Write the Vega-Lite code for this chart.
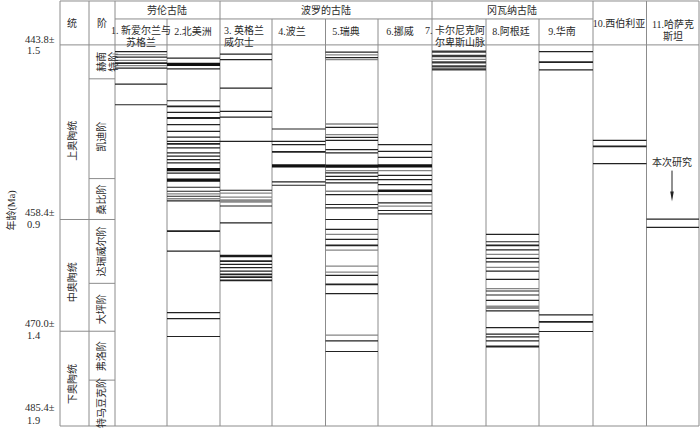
{
  "$schema": "https://vega.github.io/schema/vega-lite/v6.json",
  "width": 700,
  "height": 428,
  "autosize": {"type": "fit", "contains": "padding"},
  "padding": 0,
  "background": "white",
  "config": {"view": {"stroke": null}},
  "datasets": {
    "cols": [
      {"c": 1, "x0": 115, "x1": 167}, {"c": 2, "x0": 167, "x1": 220}, {"c": 3, "x0": 220, "x1": 272},
      {"c": 4, "x0": 272, "x1": 325.5}, {"c": 5, "x0": 325.5, "x1": 378}, {"c": 6, "x0": 378, "x1": 432},
      {"c": 7, "x0": 432, "x1": 486}, {"c": 8, "x0": 486, "x1": 539}, {"c": 9, "x0": 539, "x1": 593},
      {"c": 10, "x0": 593, "x1": 646.5}, {"c": 11, "x0": 646.5, "x1": 699}
    ],
    "beds": [
      {"c": 1, "y": 51.7, "k": "t"}, {"c": 1, "y": 54.7, "k": "g"}, {"c": 1, "y": 57.3, "k": "t"}, {"c": 1, "y": 60.5, "k": "g"},
      {"c": 1, "y": 63.3, "k": "m"}, {"c": 1, "y": 65.7, "k": "g"}, {"c": 1, "y": 68.3, "k": "t"}, {"c": 1, "y": 84.3, "k": "t"}, {"c": 1, "y": 105, "k": "t"},
      {"c": 2, "y": 58.3, "k": "t"}, {"c": 2, "y": 64.5, "k": "B"}, {"c": 2, "y": 69, "k": "t"}, {"c": 2, "y": 101, "k": "t"},
      {"c": 2, "y": 106.7, "k": "m"}, {"c": 2, "y": 112.7, "k": "t"}, {"c": 2, "y": 118.3, "k": "m"}, {"c": 2, "y": 125, "k": "t"},
      {"c": 2, "y": 131.7, "k": "t"}, {"c": 2, "y": 137.5, "k": "t"}, {"c": 2, "y": 141.7, "k": "t"}, {"c": 2, "y": 144.3, "k": "m"},
      {"c": 2, "y": 148.3, "k": "t"}, {"c": 2, "y": 153.3, "k": "t"}, {"c": 2, "y": 156.5, "k": "t"}, {"c": 2, "y": 160, "k": "t"},
      {"c": 2, "y": 163.3, "k": "t"}, {"c": 2, "y": 170, "k": "B"}, {"c": 2, "y": 173.5, "k": "t"}, {"c": 2, "y": 180.5, "k": "B"},
      {"c": 2, "y": 187.7, "k": "t"}, {"c": 2, "y": 191.7, "k": "t"}, {"c": 2, "y": 194.3, "k": "g"}, {"c": 2, "y": 196.7, "k": "t"},
      {"c": 2, "y": 199.2, "k": "g"}, {"c": 2, "y": 201.3, "k": "t"}, {"c": 2, "y": 231.7, "k": "m"}, {"c": 2, "y": 251.7, "k": "t"},
      {"c": 2, "y": 313.3, "k": "t"}, {"c": 2, "y": 319.3, "k": "t"}, {"c": 2, "y": 337.3, "k": "t"},
      {"c": 3, "y": 54.3, "k": "t"}, {"c": 3, "y": 59.7, "k": "t"}, {"c": 3, "y": 88.3, "k": "t"}, {"c": 3, "y": 111.7, "k": "t"},
      {"c": 3, "y": 117.3, "k": "t"}, {"c": 3, "y": 141.7, "k": "t"}, {"c": 3, "y": 190.7, "k": "t"}, {"c": 3, "y": 193.5, "k": "g"},
      {"c": 3, "y": 197.5, "k": "g"}, {"c": 3, "y": 201.5, "k": "G"}, {"c": 3, "y": 206.5, "k": "t"}, {"c": 3, "y": 223.3, "k": "t"},
      {"c": 3, "y": 256.7, "k": "b"}, {"c": 3, "y": 261.7, "k": "m"}, {"c": 3, "y": 265, "k": "t"}, {"c": 3, "y": 268.3, "k": "t"},
      {"c": 3, "y": 271.7, "k": "t"}, {"c": 3, "y": 275, "k": "m"}, {"c": 3, "y": 277.7, "k": "m"}, {"c": 3, "y": 281, "k": "m"},
      {"c": 4, "y": 129.3, "k": "t"}, {"c": 4, "y": 141.7, "k": "t"}, {"c": 4, "y": 145, "k": "t"}, {"c": 4, "y": 152.3, "k": "m"},
      {"c": 4, "y": 166.3, "k": "B"}, {"c": 4, "y": 182.3, "k": "t"}, {"c": 4, "y": 185.7, "k": "t"},
      {"c": 5, "y": 52.3, "k": "t"}, {"c": 5, "y": 55, "k": "g"}, {"c": 5, "y": 57.7, "k": "t"}, {"c": 5, "y": 59.7, "k": "g"},
      {"c": 5, "y": 124.3, "k": "g"}, {"c": 5, "y": 127.7, "k": "t"}, {"c": 5, "y": 135, "k": "g"}, {"c": 5, "y": 137.7, "k": "t"},
      {"c": 5, "y": 140.7, "k": "t"}, {"c": 5, "y": 150, "k": "t"}, {"c": 5, "y": 153.3, "k": "t"}, {"c": 5, "y": 166.5, "k": "B"},
      {"c": 5, "y": 171, "k": "g"}, {"c": 5, "y": 173.3, "k": "t"}, {"c": 5, "y": 176.7, "k": "t"}, {"c": 5, "y": 180, "k": "t"},
      {"c": 5, "y": 183.3, "k": "t"}, {"c": 5, "y": 191.7, "k": "g"}, {"c": 5, "y": 195, "k": "t"}, {"c": 5, "y": 205, "k": "t"},
      {"c": 5, "y": 208.3, "k": "t"}, {"c": 5, "y": 220, "k": "t"}, {"c": 5, "y": 230, "k": "t"}, {"c": 5, "y": 235, "k": "g"},
      {"c": 5, "y": 240, "k": "t"}, {"c": 5, "y": 246, "k": "m"}, {"c": 5, "y": 250.7, "k": "g"}, {"c": 5, "y": 266.7, "k": "g"},
      {"c": 5, "y": 272.7, "k": "g"}, {"c": 5, "y": 276, "k": "t"}, {"c": 5, "y": 285, "k": "m"}, {"c": 5, "y": 294.3, "k": "t"},
      {"c": 5, "y": 336, "k": "g"}, {"c": 5, "y": 341.7, "k": "t"}, {"c": 5, "y": 352.3, "k": "t"},
      {"c": 6, "y": 145, "k": "t"}, {"c": 6, "y": 151.7, "k": "t"}, {"c": 6, "y": 157.7, "k": "t"}, {"c": 6, "y": 166.3, "k": "B"},
      {"c": 6, "y": 171, "k": "g"}, {"c": 6, "y": 175.7, "k": "t"}, {"c": 6, "y": 180, "k": "t"}, {"c": 6, "y": 185, "k": "t"},
      {"c": 6, "y": 191.2, "k": "b"}, {"c": 6, "y": 195, "k": "g"}, {"c": 6, "y": 203.3, "k": "t"}, {"c": 6, "y": 206.7, "k": "g"},
      {"c": 6, "y": 211, "k": "t"}, {"c": 6, "y": 214.3, "k": "t"},
      {"c": 7, "y": 51.7, "k": "D"}, {"c": 7, "y": 56.2, "k": "D"}, {"c": 7, "y": 59.5, "k": "g"},
      {"c": 7, "y": 62.5, "k": "D"}, {"c": 7, "y": 66.5, "k": "D"}, {"c": 7, "y": 69.5, "k": "D"},
      {"c": 8, "y": 235, "k": "t"}, {"c": 8, "y": 242.3, "k": "t"}, {"c": 8, "y": 246, "k": "m"}, {"c": 8, "y": 250.5, "k": "t"},
      {"c": 8, "y": 255, "k": "g"}, {"c": 8, "y": 259, "k": "t"}, {"c": 8, "y": 262.5, "k": "t"}, {"c": 8, "y": 268, "k": "g"},
      {"c": 8, "y": 271.7, "k": "t"}, {"c": 8, "y": 280, "k": "t"}, {"c": 8, "y": 289.3, "k": "g"}, {"c": 8, "y": 291.7, "k": "t"},
      {"c": 8, "y": 295.7, "k": "t"}, {"c": 8, "y": 301, "k": "t"}, {"c": 8, "y": 308, "k": "G"}, {"c": 8, "y": 311.7, "k": "t"},
      {"c": 8, "y": 328.3, "k": "t"}, {"c": 8, "y": 335, "k": "t"}, {"c": 8, "y": 337.7, "k": "t"}, {"c": 8, "y": 341.7, "k": "t"},
      {"c": 8, "y": 347.3, "k": "m"},
      {"c": 9, "y": 51.7, "k": "t"}, {"c": 9, "y": 62.3, "k": "m"}, {"c": 9, "y": 70, "k": "t"},
      {"c": 9, "y": 315.7, "k": "t"}, {"c": 9, "y": 322.7, "k": "m"}, {"c": 9, "y": 332.3, "k": "t"},
      {"c": 10, "y": 140.7, "k": "t"}, {"c": 10, "y": 146.7, "k": "m"}, {"c": 10, "y": 164, "k": "t"},
      {"c": 11, "y": 219.7, "k": "t"}, {"c": 11, "y": 228, "k": "t"}
    ],
    "frame": [
      {"x": 60, "x2": 699, "y": 1, "y2": 1}, {"x": 115, "x2": 593, "y": 19, "y2": 19},
      {"x": 60, "x2": 699, "y": 45, "y2": 45}, {"x": 60, "x2": 699, "y": 427, "y2": 427},
      {"x": 60, "x2": 115, "y": 220, "y2": 220}, {"x": 60, "x2": 115, "y": 332, "y2": 332},
      {"x": 89, "x2": 115, "y": 79, "y2": 79}, {"x": 89, "x2": 115, "y": 179, "y2": 179},
      {"x": 89, "x2": 115, "y": 284, "y2": 284}, {"x": 89, "x2": 115, "y": 381, "y2": 381},
      {"x": 60, "x2": 60, "y": 1, "y2": 427}, {"x": 89, "x2": 89, "y": 1, "y2": 427},
      {"x": 115, "x2": 115, "y": 1, "y2": 427}, {"x": 167, "x2": 167, "y": 19, "y2": 427},
      {"x": 220, "x2": 220, "y": 1, "y2": 427}, {"x": 272, "x2": 272, "y": 19, "y2": 427},
      {"x": 325.5, "x2": 325.5, "y": 19, "y2": 427}, {"x": 378, "x2": 378, "y": 19, "y2": 427},
      {"x": 432, "x2": 432, "y": 1, "y2": 427}, {"x": 486, "x2": 486, "y": 19, "y2": 427},
      {"x": 539, "x2": 539, "y": 19, "y2": 427}, {"x": 593, "x2": 593, "y": 1, "y2": 427},
      {"x": 646.5, "x2": 646.5, "y": 1, "y2": 427}, {"x": 699, "x2": 699, "y": 1, "y2": 427}
    ],
    "labelsC": [
      {"t": "统", "x": 72, "y": 24}, {"t": "阶", "x": 102, "y": 24},
      {"t": "劳伦古陆", "x": 167, "y": 11}, {"t": "波罗的古陆", "x": 326, "y": 11}, {"t": "冈瓦纳古陆", "x": 512, "y": 11},
      {"t": "1. 新爱尔兰与\n苏格兰", "x": 141, "y": 31.5}, {"t": "2.北美洲", "x": 193, "y": 32},
      {"t": "4.波兰", "x": 292, "y": 32}, {"t": "5.瑞典", "x": 346, "y": 32}, {"t": "6.挪威", "x": 400, "y": 32},
      {"t": "8.阿根廷", "x": 511, "y": 32}, {"t": "9.华南", "x": 562, "y": 32},
      {"t": "10.西伯利亚", "x": 619, "y": 24}, {"t": "11.哈萨克\n斯坦", "x": 673, "y": 25.5},
      {"t": "本次研究", "x": 672, "y": 163}
    ],
    "labelsL": [
      {"t": "3. 英格兰\n威尔士", "x": 224, "y": 31.5}
    ],
    "ages": [
      {"t": "443.8±", "x": 25, "y": 40}, {"t": "1.5", "x": 27, "y": 51},
      {"t": "458.4±", "x": 25, "y": 213}, {"t": "0.9", "x": 27, "y": 226},
      {"t": "470.0±", "x": 25, "y": 325}, {"t": "1.4", "x": 27, "y": 337},
      {"t": "485.4±", "x": 25, "y": 409}, {"t": "1.9", "x": 27, "y": 422}
    ],
    "labelsR": [
      {"t": "7. 卡尔尼克阿\n尔卑斯山脉", "x": 485, "y": 31.5}
    ],
    "labelsV": [
      {"t": "年龄(Ma)", "x": 12, "y": 211},
      {"t": "上奥陶统", "x": 73, "y": 141}, {"t": "中奥陶统", "x": 73, "y": 283}, {"t": "下奥陶统", "x": 73, "y": 385},
      {"t": "赫南\n特阶", "x": 102, "y": 62}, {"t": "凯迪阶", "x": 102, "y": 137}, {"t": "桑比阶", "x": 102, "y": 200},
      {"t": "达瑞威尔阶", "x": 102, "y": 252}, {"t": "大坪阶", "x": 102, "y": 310}, {"t": "弗洛阶", "x": 102, "y": 357},
      {"t": "特马豆克阶", "x": 102, "y": 404}
    ],
    "arrow": [{"x": 672, "y": 171, "y2": 194}],
    "head": [{"x": 672, "y": 197}]
  },
  "encoding": {
    "x": {"field": "x", "type": "quantitative", "scale": {"domain": [0, 700], "nice": false, "zero": false}, "axis": null},
    "y": {"field": "y", "type": "quantitative", "scale": {"domain": [0, 428], "reverse": true, "nice": false, "zero": false}, "axis": null}
  },
  "layer": [
    {
      "data": {"name": "frame"},
      "mark": {"type": "rule", "color": "#8c8c8c", "strokeWidth": 1},
      "encoding": {"x2": {"field": "x2"}, "y2": {"field": "y2"}}
    },
    {
      "data": {"name": "beds"},
      "transform": [
        {"lookup": "c", "from": {"data": {"name": "cols"}, "key": "c", "fields": ["x0", "x1"]}},
        {"filter": "datum.k == 't'"}
      ],
      "mark": {"type": "rule", "color": "#222222", "strokeWidth": 1.2},
      "encoding": {"x": {"field": "x0", "type": "quantitative"}, "x2": {"field": "x1"}}
    },
    {
      "data": {"name": "beds"},
      "transform": [
        {"lookup": "c", "from": {"data": {"name": "cols"}, "key": "c", "fields": ["x0", "x1"]}},
        {"filter": "datum.k == 'g'"}
      ],
      "mark": {"type": "rule", "color": "#858585", "strokeWidth": 1.3},
      "encoding": {"x": {"field": "x0", "type": "quantitative"}, "x2": {"field": "x1"}}
    },
    {
      "data": {"name": "beds"},
      "transform": [
        {"lookup": "c", "from": {"data": {"name": "cols"}, "key": "c", "fields": ["x0", "x1"]}},
        {"filter": "datum.k == 'm'"}
      ],
      "mark": {"type": "rule", "color": "#222222", "strokeWidth": 1.8},
      "encoding": {"x": {"field": "x0", "type": "quantitative"}, "x2": {"field": "x1"}}
    },
    {
      "data": {"name": "beds"},
      "transform": [
        {"lookup": "c", "from": {"data": {"name": "cols"}, "key": "c", "fields": ["x0", "x1"]}},
        {"filter": "datum.k == 'b'"}
      ],
      "mark": {"type": "rule", "color": "#1a1a1a", "strokeWidth": 2.5},
      "encoding": {"x": {"field": "x0", "type": "quantitative"}, "x2": {"field": "x1"}}
    },
    {
      "data": {"name": "beds"},
      "transform": [
        {"lookup": "c", "from": {"data": {"name": "cols"}, "key": "c", "fields": ["x0", "x1"]}},
        {"filter": "datum.k == 'D'"}
      ],
      "mark": {"type": "rule", "color": "#3a3a3a", "strokeWidth": 2.4},
      "encoding": {"x": {"field": "x0", "type": "quantitative"}, "x2": {"field": "x1"}}
    },
    {
      "data": {"name": "beds"},
      "transform": [
        {"lookup": "c", "from": {"data": {"name": "cols"}, "key": "c", "fields": ["x0", "x1"]}},
        {"filter": "datum.k == 'B'"}
      ],
      "mark": {"type": "rule", "color": "#111111", "strokeWidth": 3.4},
      "encoding": {"x": {"field": "x0", "type": "quantitative"}, "x2": {"field": "x1"}}
    },
    {
      "data": {"name": "beds"},
      "transform": [
        {"lookup": "c", "from": {"data": {"name": "cols"}, "key": "c", "fields": ["x0", "x1"]}},
        {"filter": "datum.k == 'G'"}
      ],
      "mark": {"type": "rule", "color": "#8a8a8a", "strokeWidth": 3.5},
      "encoding": {"x": {"field": "x0", "type": "quantitative"}, "x2": {"field": "x1"}}
    },
    {
      "data": {"name": "arrow"},
      "mark": {"type": "rule", "color": "#222222", "strokeWidth": 1},
      "encoding": {"y2": {"field": "y2"}}
    },
    {
      "data": {"name": "head"},
      "mark": {"type": "point", "shape": "M -0.35 -1 L 0.35 -1 L 0 1 Z", "size": 100, "filled": true, "color": "#222222", "opacity": 1}
    },
    {
      "data": {"name": "labelsC"},
      "mark": {"type": "text", "font": "Liberation Serif, Noto Sans CJK SC", "fontSize": 10, "color": "#2a2a2a", "align": "center", "baseline": "middle", "lineBreak": "\n", "lineHeight": 11.5},
      "encoding": {"text": {"field": "t", "type": "nominal"}}
    },
    {
      "data": {"name": "labelsL"},
      "mark": {"type": "text", "font": "Liberation Serif, Noto Sans CJK SC", "fontSize": 10, "color": "#2a2a2a", "align": "left", "baseline": "middle", "lineBreak": "\n", "lineHeight": 11.5},
      "encoding": {"text": {"field": "t", "type": "nominal"}}
    },
    {
      "data": {"name": "ages"},
      "mark": {"type": "text", "font": "Liberation Serif, Noto Sans CJK SC", "fontSize": 10.5, "color": "#2a2a2a", "align": "left", "baseline": "middle"},
      "encoding": {"text": {"field": "t", "type": "nominal"}}
    },
    {
      "data": {"name": "labelsR"},
      "mark": {"type": "text", "font": "Liberation Serif, Noto Sans CJK SC", "fontSize": 10, "color": "#2a2a2a", "align": "right", "baseline": "middle", "lineBreak": "\n", "lineHeight": 11.5},
      "encoding": {"text": {"field": "t", "type": "nominal"}}
    },
    {
      "data": {"name": "labelsV"},
      "mark": {"type": "text", "font": "Liberation Serif, Noto Sans CJK SC", "fontSize": 10, "color": "#2a2a2a", "align": "center", "baseline": "middle", "angle": 270, "lineBreak": "\n", "lineHeight": 11.5},
      "encoding": {"text": {"field": "t", "type": "nominal"}}
    }
  ]
}
